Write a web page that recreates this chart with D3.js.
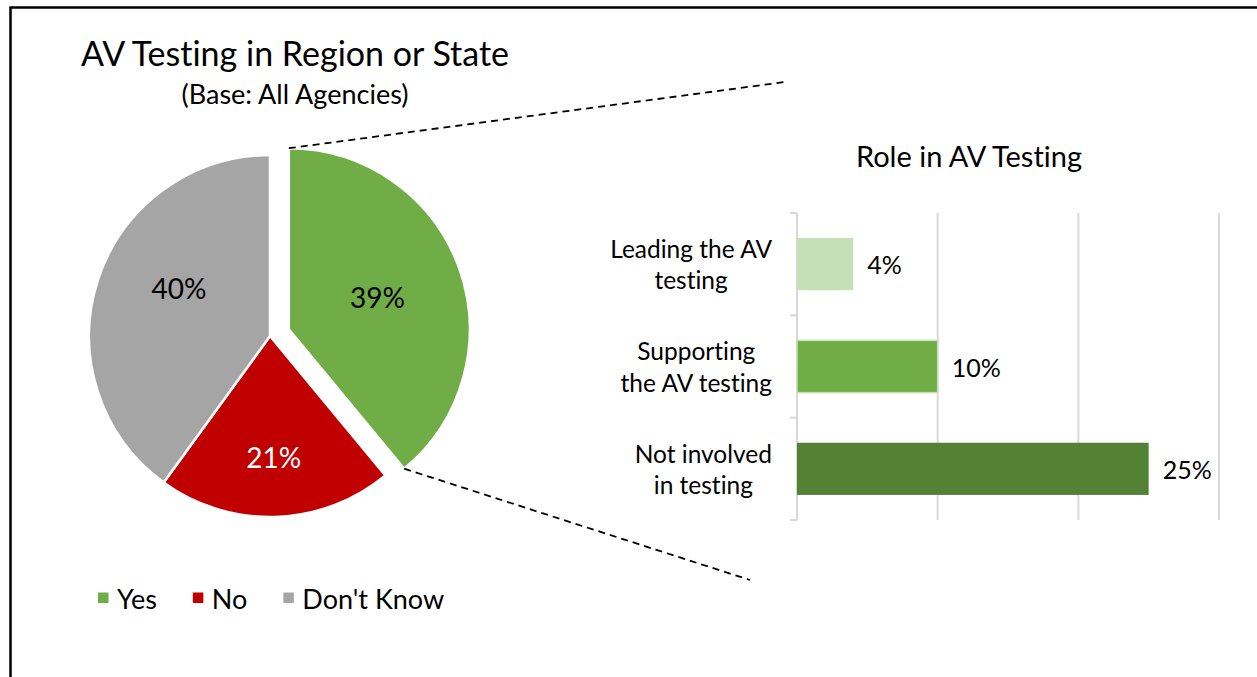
<!DOCTYPE html>
<html>
<head>
<meta charset="utf-8">
<script src="https://cdn.jsdelivr.net/npm/d3@7"></script>
<style>
  body { margin: 0; background: #fff; }
  svg { display: block; font-family: Lato, 'Open Sans', sans-serif; font-variant-ligatures: none; font-feature-settings: "liga" 0, "clig" 0; }
</style>
</head>
<body>
<div id="chart"></div>
<script>
// data
const pie_title = 'AV Testing in Region or State';
const pie_subtitle = '(Base: All Agencies)';
const pie_labels = ['Yes', 'No', "Don't Know"];
const pie_values = [0.39, 0.21, 0.40];
const pie_colours = ['#70AD47', '#C00000', '#A5A5A5'];

const bar_title = 'Role in AV Testing';
const bar_categories = ['Leading the AV\ntesting', 'Supporting\nthe AV testing', 'Not involved\nin testing'];
const bar_values = [0.04, 0.10, 0.25];
const bar_colours = ['#C5E0B4', '#70AD47', '#548235'];
const bar_ticks = [0, 0.1, 0.2, 0.3];

// layout
const width = 1257, height = 677;
const pie_cx = 270, pie_cy = 336, pie_r = 181, explode = 20;
// where each slice label sits: fraction of radius, and a nudge in degrees
const label_radius = [0.52, 0.67, 0.57];
const label_nudge = [0, 0, 10];
const bar_left = 797, bar_right = 1219, bar_top = 213, bar_bottom = 520;
const grid_colour = '#D9D9D9';
const pct = d3.format('.0%');

let svg = d3.select('#chart').append('svg:svg')
  .attr('width', width)
  .attr('height', height);

// frame (top and left edge only are visible)
svg.append('svg:path')
  .attr('d', 'M10.5,' + height + 'V7.5H' + width)
  .attr('fill', 'none')
  .attr('stroke', '#000')
  .attr('stroke-width', 2.5);

// ---- pie ----
svg.append('svg:text')
  .attr('x', 295).attr('y', 52)
  .attr('text-anchor', 'middle').attr('dominant-baseline', 'central')
  .attr('font-size', 34)
  .text(pie_title);
svg.append('svg:text')
  .attr('x', 295).attr('y', 93)
  .attr('text-anchor', 'middle').attr('dominant-baseline', 'central')
  .attr('font-size', 27)
  .text(pie_subtitle);

let arcs = d3.pie().sort(null).value(d => d)(pie_values);
let arc = d3.arc().innerRadius(0).outerRadius(pie_r);

// first slice is pulled out along its bisector
function offset(d, i) {
  if(i !== 0) return [0, 0];
  let mid = (d.startAngle + d.endAngle) / 2;
  return [explode * Math.sin(mid), -explode * Math.cos(mid)];
}

function label_pos(d, i) {
  let mid = (d.startAngle + d.endAngle) / 2 + label_nudge[i] * Math.PI / 180;
  let r = pie_r * label_radius[i];
  return [r * Math.sin(mid), -r * Math.cos(mid)];
}

let pie_g = svg.append('svg:g')
  .attr('class', 'pie')
  .attr('transform', 'translate(' + pie_cx + ',' + pie_cy + ')');

let slices = pie_g.selectAll('g.slice')
  .data(arcs)
  .join('svg:g')
  .attr('class', 'slice')
  .attr('transform', (d, i) => 'translate(' + offset(d, i) + ')');

slices.append('svg:path')
  .attr('d', arc)
  .attr('fill', (d, i) => pie_colours[i])
  .attr('stroke', '#fff')
  .attr('stroke-width', 2.5)
  .attr('stroke-linejoin', 'round');

slices.append('svg:text')
  .attr('transform', (d, i) => 'translate(' + label_pos(d, i) + ')')
  .attr('text-anchor', 'middle')
  .attr('dominant-baseline', 'central')
  .attr('font-size', 28)
  .attr('fill', (d, i) => i === 1 ? '#fff' : '#000')
  .text(d => pct(d.data));

// legend
let legend = svg.append('svg:g')
  .attr('class', 'legend')
  .attr('transform', 'translate(98,598)');
let lx = 0;
pie_labels.forEach(function(label, i) {
  let item = legend.append('svg:g').attr('transform', 'translate(' + lx + ',0)');
  item.append('svg:rect')
    .attr('x', 0).attr('y', -5.5)
    .attr('width', 10.5).attr('height', 10.5)
    .attr('fill', pie_colours[i]);
  let t = item.append('svg:text')
    .attr('x', 19).attr('y', 0)
    .attr('dominant-baseline', 'central')
    .attr('font-size', 27)
    .text(label);
  lx += 19 + t.node().getComputedTextLength() + 36;
});

// ---- connector lines from the pulled slice to the bar chart ----
let yes = arcs[0];
let yes_off = offset(yes, 0);
function rim(angle) {
  return [pie_cx + yes_off[0] + pie_r * Math.sin(angle), pie_cy + yes_off[1] - pie_r * Math.cos(angle)];
}
let connectors = [
  [rim(yes.startAngle), [785, 82]],
  [rim(yes.endAngle), [750, 580]],
];
svg.append('svg:g')
  .attr('class', 'connectors')
  .selectAll('line')
  .data(connectors)
  .join('svg:line')
  .attr('x1', d => d[0][0]).attr('y1', d => d[0][1])
  .attr('x2', d => d[1][0]).attr('y2', d => d[1][1])
  .attr('stroke', '#000')
  .attr('stroke-width', 1.8)
  .attr('stroke-dasharray', '7,5');

// ---- bar chart ----
svg.append('svg:text')
  .attr('x', 969).attr('y', 155)
  .attr('text-anchor', 'middle').attr('dominant-baseline', 'central')
  .attr('font-size', 29)
  .text(bar_title);

let x = d3.scaleLinear().domain([0, 0.3]).range([bar_left, bar_right]);
let y = d3.scaleBand().domain(bar_categories).range([bar_top, bar_bottom]).paddingInner(0.49).paddingOuter(0.245);

// gridlines
svg.append('svg:g')
  .attr('class', 'grid')
  .selectAll('line')
  .data(bar_ticks.slice(1))
  .join('svg:line')
  .attr('x1', d => x(d)).attr('x2', d => x(d))
  .attr('y1', bar_top).attr('y2', bar_bottom)
  .attr('stroke', grid_colour)
  .attr('stroke-width', 2);

// category axis with ticks between bands
let band_edges = bar_categories.map(c => y(c) - y.step() * y.paddingInner() / 2);
band_edges[0] = bar_top;
band_edges.push(bar_bottom);
let y_axis = svg.append('svg:g').attr('class', 'y_axis');
y_axis.append('svg:line')
  .attr('x1', bar_left).attr('x2', bar_left)
  .attr('y1', bar_top).attr('y2', bar_bottom)
  .attr('stroke', grid_colour).attr('stroke-width', 2);
y_axis.selectAll('line.tick')
  .data(band_edges)
  .join('svg:line')
  .attr('class', 'tick')
  .attr('x1', bar_left - 7).attr('x2', bar_left)
  .attr('y1', d => d).attr('y2', d => d)
  .attr('stroke', grid_colour).attr('stroke-width', 2);

// category labels, wrapped lines centred within a right-aligned block
let cat_labels = y_axis.selectAll('text.cat')
  .data(bar_categories)
  .join('svg:text')
  .attr('class', 'cat')
  .attr('font-size', 24.5)
  .attr('text-anchor', 'middle');
cat_labels.each(function(d) {
  let el = d3.select(this);
  let lines = d.split('\n');
  let cy = y(d) + y.bandwidth() / 2;
  lines.forEach(function(line, i) {
    el.append('svg:tspan')
      .attr('y', cy + (i - (lines.length - 1) / 2) * 31.5)
      .attr('dominant-baseline', 'central')
      .text(line);
  });
  let w = d3.max(el.selectAll('tspan').nodes(), n => n.getComputedTextLength());
  el.selectAll('tspan').attr('x', 772 - w / 2);
});

let bars = svg.append('svg:g').attr('class', 'bars');
bars.selectAll('rect')
  .data(bar_values)
  .join('svg:rect')
  .attr('x', x(0))
  .attr('y', (d, i) => y(bar_categories[i]))
  .attr('width', d => x(d) - x(0))
  .attr('height', y.bandwidth())
  .attr('fill', (d, i) => bar_colours[i])
  .attr('stroke', (d, i) => i === 1 ? '#C5E0B4' : 'none')
  .attr('stroke-width', 1.5);

bars.selectAll('text')
  .data(bar_values)
  .join('svg:text')
  .attr('x', d => x(d) + 14)
  .attr('y', (d, i) => y(bar_categories[i]) + y.bandwidth() / 2)
  .attr('dominant-baseline', 'central')
  .attr('font-size', 25)
  .text(d => pct(d));
</script>
</body>
</html>
